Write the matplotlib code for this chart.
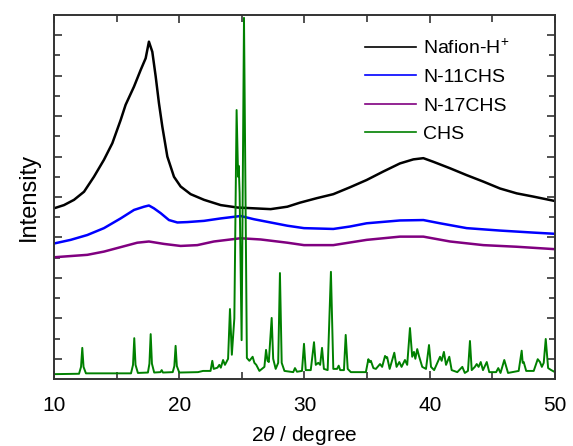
import numpy as np
import matplotlib
matplotlib.use('Agg')
import matplotlib.pyplot as plt
from matplotlib.ticker import MultipleLocator

plt.rcParams['font.family'] = ['Liberation Sans', 'DejaVu Sans']
plt.rcParams['mathtext.fontset'] = 'custom'
plt.rcParams['mathtext.it'] = 'Liberation Sans:italic'
plt.rcParams['mathtext.rm'] = 'Liberation Sans'

# Nafion-H+ membrane (offset trace)
naf_x = [10.0, 10.80, 11.60, 12.40, 13.19, 13.99, 14.66, 15.32, 15.72, 16.39, 16.92,
         17.32, 17.58, 17.85, 18.12, 18.38, 18.65, 19.05, 19.58, 20.11, 20.91, 21.98,
         23.31, 24.64, 25.97, 27.30, 28.63, 29.64, 30.97, 32.30, 33.63, 34.96, 36.29,
         37.62, 38.69, 39.49, 40.29, 41.62, 42.95, 44.28, 45.61, 46.94, 48.27, 50.0]
naf_y = [4.22, 4.30, 4.43, 4.63, 5.00, 5.42, 5.83, 6.40, 6.78, 7.23, 7.64,
         7.93, 8.34, 8.09, 7.48, 6.82, 6.24, 5.50, 5.00, 4.76, 4.57, 4.43,
         4.30, 4.24, 4.22, 4.20, 4.26, 4.36, 4.47, 4.57, 4.74, 4.92, 5.13,
         5.33, 5.43, 5.46, 5.37, 5.21, 5.04, 4.88, 4.71, 4.59, 4.51, 4.40]

# N-11CHS composite
n11_x = [10.0, 11.33, 12.66, 13.99, 15.32, 16.39, 17.19, 17.58, 17.98, 18.52, 19.18,
         19.85, 20.65, 21.98, 23.31, 24.37, 24.90, 25.97, 27.30, 28.63, 29.96, 32.30,
         33.63, 34.96, 37.62, 39.49, 40.82, 42.95, 45.61, 48.27, 50.0]
n11_y = [3.35, 3.44, 3.56, 3.73, 3.97, 4.18, 4.26, 4.29, 4.22, 4.10, 3.93,
         3.87, 3.88, 3.91, 3.97, 4.01, 4.03, 3.95, 3.87, 3.79, 3.73, 3.71,
         3.77, 3.85, 3.92, 3.93, 3.85, 3.73, 3.67, 3.62, 3.59]

# N-17CHS composite
n17_x = [10.0, 12.66, 13.99, 15.32, 16.65, 17.58, 18.78, 20.11, 21.44, 22.77, 24.10,
         24.90, 26.50, 28.63, 29.96, 32.30, 34.96, 37.62, 39.49, 41.62, 44.28, 46.94,
         50.0]
n17_y = [3.01, 3.07, 3.15, 3.26, 3.37, 3.40, 3.34, 3.29, 3.31, 3.40, 3.45,
         3.48, 3.45, 3.37, 3.31, 3.31, 3.44, 3.52, 3.52, 3.40, 3.31, 3.27,
         3.21]

# CHS powder pattern
chs_x = [10.0, 12.0, 12.16, 12.26, 12.36, 12.55, 16.15, 16.31, 16.41, 16.51, 16.7,
         17.5, 17.62, 17.72, 17.82, 18.0, 18.5, 18.6, 18.7, 19.48, 19.61, 19.71, 19.81, 20.0,
         21.5, 21.9, 22.5, 22.64, 22.75, 23.05, 23.2, 23.32, 23.5, 23.65, 23.9,
         24.05, 24.2, 24.4, 24.58, 24.7, 24.75, 24.82, 24.98, 25.1, 25.17, 25.25,
         25.4, 25.6, 25.86, 26.0, 26.15, 26.4, 26.8, 26.93, 27.05, 27.15, 27.38,
         27.5, 27.7, 27.9, 28.04, 28.18, 28.4, 29.1, 29.24, 29.4, 29.8, 29.96,
         30.1, 30.5, 30.76, 30.9, 31.1, 31.25, 31.4, 31.55, 31.85, 32.11, 32.3,
         32.6, 32.73, 32.85, 33.15, 33.29, 33.45, 33.7, 34.9, 35.1, 35.2, 35.3,
         35.5, 35.7, 36.03, 36.2, 36.43, 36.55, 36.6, 36.8, 37.17, 37.35, 37.57,
         37.75, 38.02, 38.2, 38.42, 38.6, 38.74, 38.85, 39.0, 39.14, 39.4, 39.7,
         39.94, 40.1, 40.35, 40.82, 40.95, 41.13, 41.3, 41.56, 41.75, 42.2, 42.6,
         42.8, 43.05, 43.21, 43.35, 43.6, 43.75, 43.9, 44.07, 44.25, 44.55, 44.75,
         45.3, 45.47, 45.65, 45.95, 46.25, 47.1, 47.34, 47.42, 47.5, 47.7, 48.3,
         48.62, 48.8, 48.95, 49.1, 49.26, 49.45, 49.7, 50.0]
chs_y = [0.12, 0.13, 0.30, 0.77, 0.30, 0.14, 0.14, 0.35, 1.01, 0.35, 0.15,
         0.16, 0.38, 1.11, 0.38, 0.16, 0.17, 0.22, 0.16, 0.17, 0.32, 0.82, 0.32, 0.16,
         0.17, 0.20, 0.20, 0.45, 0.25, 0.28, 0.35, 0.28, 0.47, 0.35, 0.50,
         1.73, 0.60, 1.50, 6.65, 5.00, 5.27, 4.60, 0.96, 6.00, 8.93, 6.00,
         0.52, 0.45, 0.55, 0.40, 0.35, 0.20, 0.30, 0.72, 0.45, 0.42, 1.51,
         0.50, 0.25, 0.40, 2.62, 0.40, 0.20, 0.17, 0.27, 0.18, 0.20, 0.87,
         0.22, 0.22, 0.91, 0.35, 0.40, 0.35, 0.77, 0.25, 0.22, 2.65, 0.25,
         0.25, 0.33, 0.22, 0.22, 1.09, 0.25, 0.17, 0.17, 0.49, 0.42, 0.45,
         0.27, 0.25, 0.37, 0.30, 0.57, 0.52, 0.54, 0.25, 0.65, 0.30, 0.42,
         0.30, 0.47, 0.35, 1.26, 0.55, 0.67, 0.50, 0.74, 0.57, 0.30, 0.25,
         0.84, 0.30, 0.22, 0.55, 0.45, 0.67, 0.35, 0.55, 0.22, 0.17, 0.30,
         0.15, 0.20, 0.94, 0.22, 0.30, 0.37, 0.30, 0.42, 0.22, 0.42, 0.17,
         0.17, 0.27, 0.15, 0.47, 0.15, 0.20, 0.70, 0.40, 0.42, 0.20, 0.20,
         0.49, 0.42, 0.30, 0.40, 0.99, 0.27, 0.22, 0.17]

fig = plt.figure(figsize=(5.73, 4.46), dpi=100)
ax = fig.add_axes([0.0942, 0.1502, 0.8744, 0.8162])

ax.plot(naf_x, naf_y, color='black', lw=1.8, label='Nafion-H$^{+}$')
ax.plot(n11_x, n11_y, color='#0000ff', lw=1.8, label='N-11CHS')
ax.plot(n17_x, n17_y, color='#800080', lw=1.8, label='N-17CHS')
ax.plot(chs_x, chs_y, color='#008000', lw=1.4, label='CHS')

ax.set_xlim(10, 50)
ax.set_ylim(0, 9)
ax.xaxis.set_major_locator(MultipleLocator(10))
ax.xaxis.set_minor_locator(MultipleLocator(5))
ax.set_yticks(np.arange(0.5, 9, 1.0))
ax.set_yticks(np.arange(1, 9, 1.0), minor=True)
ax.tick_params(which='both', direction='in', top=True, right=True, color='#333333', width=1.2)
ax.tick_params(which='major', length=6, labelsize=15)
ax.tick_params(axis='x', which='major', pad=12)
ax.tick_params(axis='y', which='major', pad=2)
ax.tick_params(which='minor', length=4)
ax.tick_params(axis='x', which='minor', length=5)
ax.set_yticklabels([])
for s in ax.spines.values():
    s.set_color('#333333')
    s.set_linewidth(1.4)

ax.set_xlabel(r'2$\it{\theta}$ / degree', fontsize=15, labelpad=7)
ax.set_ylabel('Intensity', fontsize=17, labelpad=7)

leg = ax.legend(loc='upper left', bbox_to_anchor=(0.586, 0.983), frameon=False, fontsize=14,
                handlelength=2.6, handletextpad=0.4, labelspacing=0.55)
for h in leg.get_lines():
    h.set_linewidth(1.2)

fig.savefig('out.png', dpi=100)
